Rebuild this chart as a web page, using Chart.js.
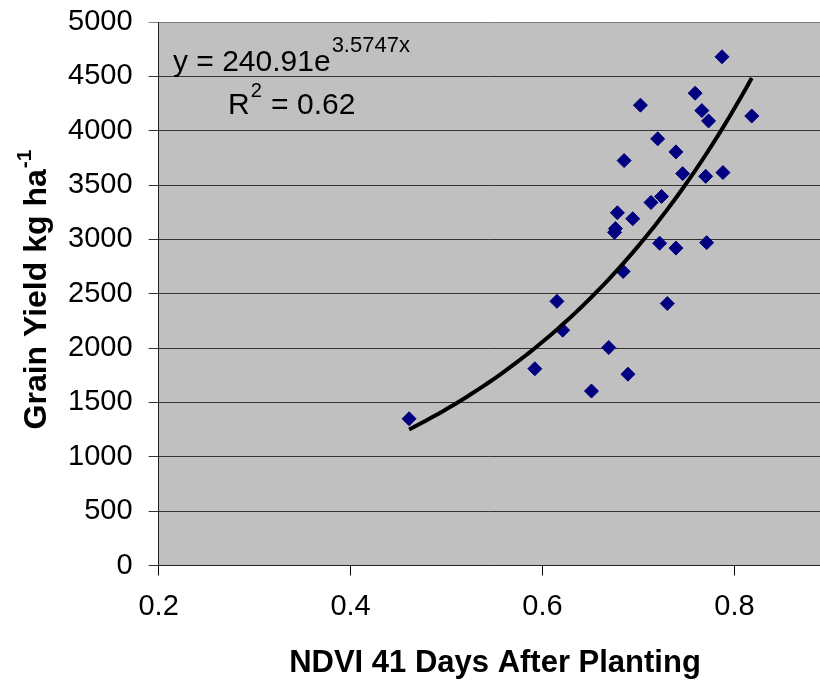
<!DOCTYPE html>
<html>
<head>
<meta charset="utf-8">
<script src="https://cdn.jsdelivr.net/npm/chart.js@4.4.1/dist/chart.umd.min.js"></script>
<style>
  html, body { margin: 0; padding: 0; background: #fff; overflow: hidden; }
  #wrap { width: 820px; height: 681px; position: relative; }
</style>
</head>
<body>
<div id="wrap"><canvas id="yieldChart" width="820" height="681"></canvas></div>
<script>
// NDVI readings and grain yield for each plot
const ndvi = [0.461, 0.592, 0.615, 0.621, 0.651, 0.669, 0.689, 0.675, 0.676, 0.678,
  0.684, 0.685, 0.694, 0.702, 0.713, 0.720, 0.722, 0.724, 0.730, 0.739,
  0.739, 0.746, 0.759, 0.766, 0.770, 0.771, 0.773, 0.787, 0.788, 0.818];
const grainYield = [1350, 1810, 2430, 2165, 1605, 2005, 1760, 3065, 3100, 3245,
  2705, 3725, 3190, 4235, 3340, 3925, 2965, 3395, 2410, 3805,
  2920, 3605, 4345, 4185, 3580, 2970, 4090, 4680, 3615, 4135];

// exponential fit y = a * e^(b x)
const fitA = 240.91;
const fitB = 3.5747;
const fitR2 = 0.62;

const yTicks = [0, 500, 1000, 1500, 2000, 2500, 3000, 3500, 4000, 4500, 5000];
const xTicks = [0.2, 0.4, 0.6, 0.8];

const points = ndvi.map((x, i) => ({ x: x, y: grainYield[i] }));

const xMin = Math.min(...ndvi), xMax = Math.max(...ndvi);
const trend = [];
for (let i = 0; i <= 60; i++) {
  const x = xMin + (xMax - xMin) * i / 60;
  trend.push({ x: x, y: fitA * Math.exp(fitB * x) });
}

const FONT = "'Liberation Sans', Arial, sans-serif";

// gray plot area
const plotBg = {
  id: "plotBg",
  beforeDraw(chart) {
    const a = chart.chartArea, ctx = chart.ctx;
    ctx.save();
    ctx.fillStyle = "#c0c0c0";
    ctx.fillRect(a.left, a.top, a.right - a.left, a.bottom - a.top);
    ctx.restore();
  }
};

// axis titles with superscripts and the trendline equation
const textLayer = {
  id: "textLayer",
  afterDraw(chart) {
    const ctx = chart.ctx;
    ctx.save();
    ctx.fillStyle = "#000";
    ctx.textBaseline = "alphabetic";

    // x title
    ctx.font = "bold 31px " + FONT;
    ctx.textAlign = "center";
    ctx.fillText("NDVI 41 Days After Planting", 495, 672);

    // y title, rotated, with ha^-1
    ctx.save();
    ctx.translate(46, 290);
    ctx.rotate(-Math.PI / 2);
    ctx.textAlign = "left";
    const main = "Grain Yield kg ha";
    ctx.font = "bold 32px " + FONT;
    const wMain = ctx.measureText(main).width;
    ctx.font = "bold 21px " + FONT;
    const wSup = ctx.measureText("-1").width;
    const start = -(wMain + wSup) / 2;
    ctx.font = "bold 32px " + FONT;
    ctx.fillText(main, start, 0);
    ctx.font = "bold 21px " + FONT;
    ctx.fillText("-1", start + wMain + 1, -15);
    ctx.restore();

    // equation
    ctx.textAlign = "left";
    ctx.font = "30px " + FONT;
    const eq = "y = " + fitA.toFixed(2) + "e";
    ctx.fillText(eq, 173, 71);
    const wEq = ctx.measureText(eq).width;
    ctx.font = "22px " + FONT;
    ctx.fillText(fitB.toFixed(4) + "x", 173 + wEq + 1, 52);

    ctx.font = "30px " + FONT;
    ctx.fillText("R", 228, 114);
    const wR = ctx.measureText("R").width;
    ctx.font = "20px " + FONT;
    ctx.fillText("2", 228 + wR + 1, 97);
    const w2 = ctx.measureText("2").width;
    ctx.font = "30px " + FONT;
    ctx.fillText(" = " + fitR2.toFixed(2), 228 + wR + w2 + 2, 114);
    ctx.restore();
  }
};

new Chart(document.getElementById("yieldChart"), {
  type: "scatter",
  data: {
    datasets: [
      {
        label: "Trend",
        data: trend,
        showLine: true,
        borderColor: "#000",
        borderWidth: 4,
        pointRadius: 0,
        tension: 0,
        order: 0
      },
      {
        label: "Grain yield",
        data: points,
        pointStyle: "rectRot",
        pointRadius: 7,
        pointBackgroundColor: "#000080",
        pointBorderColor: "#000080",
        pointBorderWidth: 1,
        order: 1
      }
    ]
  },
  options: {
    responsive: false,
    animation: false,
    devicePixelRatio: 1,
    layout: { autoPadding: false, padding: { top: 22, right: 0, left: 0, bottom: 0 } },
    plugins: {
      legend: { display: false },
      tooltip: { enabled: false }
    },
    scales: {
      x: {
        type: "linear",
        min: 0.2,
        max: 0.2 + (820 - 158.6) / 959.8,
        afterFit(scale) {
          scale.height = 681 - 22 - 543.5;
          scale.paddingLeft = 0;
          scale.paddingRight = 0;
        },
        afterBuildTicks(scale) { scale.ticks = xTicks.map(v => ({ value: v })); },
        grid: {
          drawOnChartArea: false,
          drawTicks: true,
          tickLength: 10,
          color: "#000",
          lineWidth: 1
        },
        border: { display: true, color: "#222", width: 1 },
        ticks: {
          padding: 14,
          font: { family: FONT, size: 29 },
          color: "#000",
          maxRotation: 0,
          callback: v => v.toString()
        }
      },
      y: {
        type: "linear",
        min: 0,
        max: 5000,
        afterFit(scale) {
          scale.width = 158.6;
          scale.paddingTop = 0;
          scale.paddingBottom = 0;
        },
        afterBuildTicks(scale) { scale.ticks = yTicks.map(v => ({ value: v })); },
        grid: {
          drawOnChartArea: true,
          drawTicks: true,
          tickLength: 10,
          color: ctx => (ctx.tick && ctx.tick.value === 5000 ? "#808080" : "#333"),
          lineWidth: 1
        },
        border: { display: true, color: "#222", width: 1 },
        ticks: {
          padding: 16,
          font: { family: FONT, size: 29 },
          color: "#000",
          callback: v => v.toString()
        }
      }
    }
  },
  plugins: [plotBg, textLayer]
});
</script>
</body>
</html>
